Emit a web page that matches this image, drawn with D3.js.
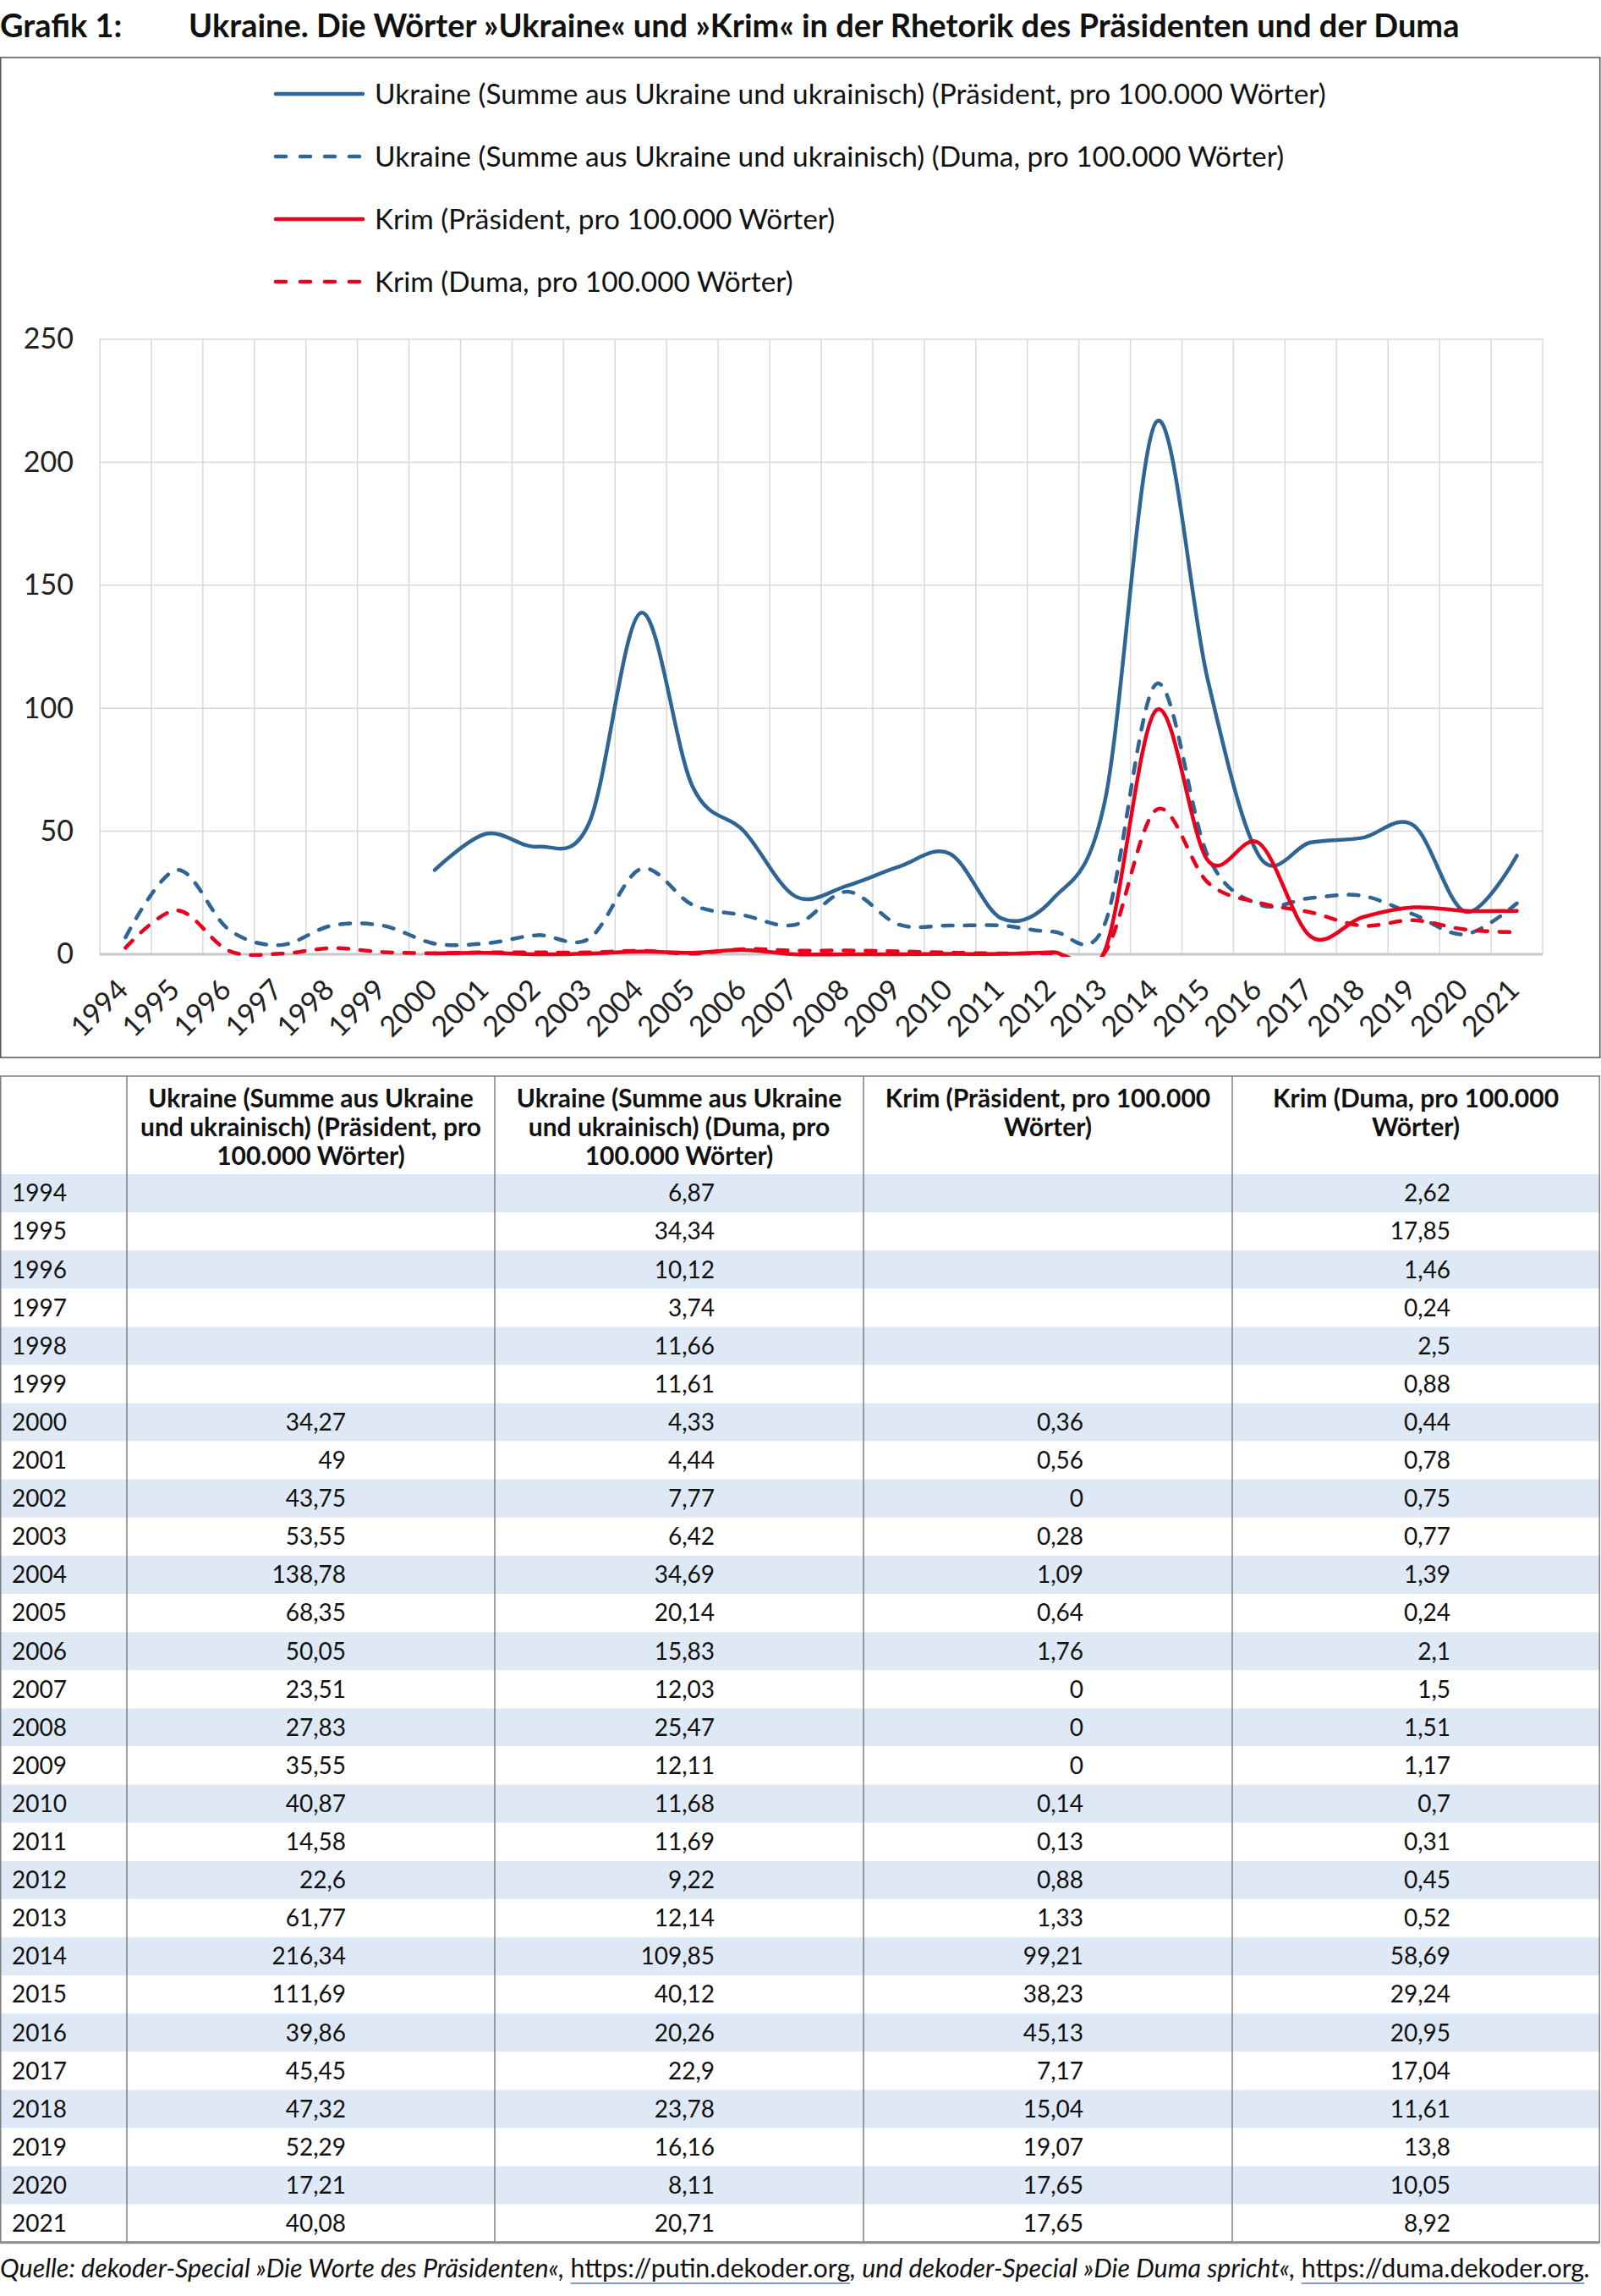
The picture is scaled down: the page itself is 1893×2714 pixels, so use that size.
<!DOCTYPE html>
<html>
<head>
<meta charset="utf-8">
<script src="https://cdn.jsdelivr.net/npm/d3@7"></script>
<style>
  body { margin: 0; background: #fff; }
  svg { display: block; font-family: Lato, "Open Sans", sans-serif; }
  text { white-space: pre; }
</style>
</head>
<body>
<div id="chart"></div>
<script>
const BLUE = "#2e6594";
const RED = "#e8001c";
const GRID = "#d9d9d9";
const STRIPE = "#dfe9f5";

const years = [1994, 1995, 1996, 1997, 1998, 1999, 2000, 2001, 2002, 2003, 2004, 2005, 2006, 2007,
  2008, 2009, 2010, 2011, 2012, 2013, 2014, 2015, 2016, 2017, 2018, 2019, 2020, 2021];

const ukrPraes = [null, null, null, null, null, null, 34.27, 49, 43.75, 53.55, 138.78, 68.35, 50.05, 23.51,
  27.83, 35.55, 40.87, 14.58, 22.6, 61.77, 216.34, 111.69, 39.86, 45.45, 47.32, 52.29, 17.21, 40.08];
const ukrDuma = [6.87, 34.34, 10.12, 3.74, 11.66, 11.61, 4.33, 4.44, 7.77, 6.42, 34.69, 20.14, 15.83, 12.03,
  25.47, 12.11, 11.68, 11.69, 9.22, 12.14, 109.85, 40.12, 20.26, 22.9, 23.78, 16.16, 8.11, 20.71];
const krimPraes = [null, null, null, null, null, null, 0.36, 0.56, 0, 0.28, 1.09, 0.64, 1.76, 0,
  0, 0, 0.14, 0.13, 0.88, 1.33, 99.21, 38.23, 45.13, 7.17, 15.04, 19.07, 17.65, 17.65];
const krimDuma = [2.62, 17.85, 1.46, 0.24, 2.5, 0.88, 0.44, 0.78, 0.75, 0.77, 1.39, 0.24, 2.1, 1.5,
  1.51, 1.17, 0.7, 0.31, 0.45, 0.52, 58.69, 29.24, 20.95, 17.04, 11.61, 13.8, 10.05, 8.92];

const seriesNames = [
  "Ukraine (Summe aus Ukraine und ukrainisch) (Präsident, pro 100.000 Wörter)",
  "Ukraine (Summe aus Ukraine und ukrainisch) (Duma, pro 100.000 Wörter)",
  "Krim (Präsident, pro 100.000 Wörter)",
  "Krim (Duma, pro 100.000 Wörter)"
];
const headerLines = [
  ["Ukraine (Summe aus Ukraine", "und ukrainisch) (Präsident, pro", "100.000 Wörter)"],
  ["Ukraine (Summe aus Ukraine", "und ukrainisch) (Duma, pro", "100.000 Wörter)"],
  ["Krim (Präsident, pro 100.000", "Wörter)"],
  ["Krim (Duma, pro 100.000", "Wörter)"]
];
const yTicks = [0, 50, 100, 150, 200, 250];

const titleLabel = "Grafik 1:";
const titleText = "Ukraine. Die Wörter »Ukraine« und »Krim« in der Rhetorik des Präsidenten und der Duma";
const footerParts = [
  { t: "Quelle: dekoder-Special »Die Worte des Präsidenten«, ", link: false },
  { t: "https://putin.dekoder.org", link: true },
  { t: ", und dekoder-Special »Die Duma spricht«, ", link: false },
  { t: "https://duma.dekoder.org", link: true },
  { t: ".", link: false }
];

const series = [
  { name: seriesNames[0], values: ukrPraes, color: BLUE, dash: false },
  { name: seriesNames[1], values: ukrDuma, color: BLUE, dash: true },
  { name: seriesNames[2], values: krimPraes, color: RED, dash: false },
  { name: seriesNames[3], values: krimDuma, color: RED, dash: true }
];

const W = 1893, H = 2714;
const svg = d3.select("#chart").append("svg").attr("width", W).attr("height", H);

// title
svg.append("text").attr("x", 0).attr("y", 44)
  .attr("font-size", 38).attr("font-weight", 700).attr("fill", "#111").text(titleLabel);
svg.append("text").attr("x", 223).attr("y", 44)
  .attr("font-size", 38).attr("font-weight", 700).attr("fill", "#111").text(titleText);

// chart frame
svg.append("rect").attr("x", 0.75).attr("y", 68).attr("width", W - 2).attr("height", 1182)
  .attr("fill", "none").attr("stroke", "#555").attr("stroke-width", 1.5);

// legend
const legend = svg.append("g");
series.forEach(function (s, i) {
  const ly = 111 + i * 74;
  legend.append("line").attr("x1", 326).attr("x2", 429).attr("y1", ly).attr("y2", ly)
    .attr("stroke", s.color).attr("stroke-width", 4.5).attr("stroke-linecap", "round")
    .attr("stroke-dasharray", s.dash ? "12 17" : null);
  legend.append("text").attr("x", 443).attr("y", ly).attr("dy", "0.35em")
    .attr("font-size", 33.4).attr("fill", "#111").text(s.name);
});

// scales
const plotLeft = 118, plotRight = 1824, plotTop = 401, plotBottom = 1128;
const x = d3.scaleBand().domain(years).range([plotLeft, plotRight]);
const cx = d => x(d) + x.bandwidth() / 2;
const y = d3.scaleLinear().domain([0, 250]).range([plotBottom, plotTop]);

// grid
const grid = svg.append("g");
grid.selectAll("line.v").data(years.concat(["end"])).join("line")
  .attr("x1", (d, i) => plotLeft + i * x.bandwidth())
  .attr("x2", (d, i) => plotLeft + i * x.bandwidth())
  .attr("y1", plotTop).attr("y2", plotBottom)
  .attr("stroke", GRID).attr("stroke-width", 1.5);
grid.selectAll("line.h").data(yTicks.filter(d => d > 0)).join("line")
  .attr("x1", plotLeft).attr("x2", plotRight)
  .attr("y1", d => y(d)).attr("y2", d => y(d))
  .attr("stroke", GRID).attr("stroke-width", 1.5);
svg.append("line").attr("x1", plotLeft).attr("x2", plotRight)
  .attr("y1", y(0)).attr("y2", y(0)).attr("stroke", "#c8c8c8").attr("stroke-width", 3);

// y axis labels
const yAxis = d3.axisLeft(y).tickValues(yTicks).tickSize(0).tickPadding(31);
svg.append("g").attr("transform", `translate(${plotLeft},0)`).call(yAxis)
  .call(g => g.select(".domain").remove())
  .selectAll("text").attr("font-size", 34).attr("fill", "#222").attr("font-family", "Lato");

// x axis labels
const xAxis = d3.axisBottom(x).tickSize(0).tickPadding(0);
svg.append("g").attr("transform", `translate(0,${plotBottom})`).call(xAxis)
  .call(g => g.select(".domain").remove())
  .selectAll("text")
  .attr("font-size", 34).attr("fill", "#222").attr("font-family", "Lato")
  .attr("text-anchor", "end")
  .attr("y", 0)
  .attr("dy", 0)
  .attr("transform", "translate(5,44) rotate(-45)");

// lines
svg.append("clipPath").attr("id", "plotclip").append("rect")
  .attr("x", plotLeft).attr("y", plotTop - 5).attr("width", plotRight - plotLeft).attr("height", plotBottom - plotTop + 8);

const line = d3.line()
  .defined(d => d.v !== null)
  .x(d => cx(d.year)).y(d => y(d.v))
  .curve(d3.curveCardinal.tension(0));

const linesG = svg.append("g").attr("clip-path", "url(#plotclip)");
series.forEach(function (s) {
  const pts = years.map((yr, i) => ({ year: yr, v: s.values[i] }));
  linesG.append("path").datum(pts)
    .attr("d", line)
    .attr("fill", "none").attr("stroke", s.color).attr("stroke-width", 4.5)
    .attr("stroke-linejoin", "round").attr("stroke-linecap", "round")
    .attr("stroke-dasharray", s.dash ? "12 14" : null);
});

// table
const tTop = 1272, headH = 116, rowH = 45.1;
const colX = [0, 150, 585, 1021, 1457, 1891];
const table = svg.append("g");
const rows = years.map((yr, i) => [yr, ukrPraes[i], ukrDuma[i], krimPraes[i], krimDuma[i]]);
const fmt = v => v === null ? "" : String(v).replace(".", ",");

table.selectAll("rect.stripe").data(rows).join("rect")
  .attr("x", 0).attr("width", colX[5])
  .attr("y", (d, i) => tTop + headH + i * rowH).attr("height", rowH)
  .attr("fill", (d, i) => i % 2 === 0 ? STRIPE : "#fff");

const tBottom = tTop + headH + rows.length * rowH;
table.append("rect").attr("x", 0.75).attr("y", tTop).attr("width", colX[5] - 0.5).attr("height", tBottom - tTop)
  .attr("fill", "none").attr("stroke", "#7f7f7f").attr("stroke-width", 1.5);
table.append("line").attr("x1", 0).attr("x2", colX[5]).attr("y1", tBottom).attr("y2", tBottom)
  .attr("stroke", "#8c8c8c").attr("stroke-width", 3);
table.selectAll("line.col").data(colX.slice(1, 5)).join("line")
  .attr("x1", d => d).attr("x2", d => d).attr("y1", tTop).attr("y2", tBottom)
  .attr("stroke", "#7f7f7f").attr("stroke-width", 1.5);

headerLines.forEach(function (lines, c) {
  const mid = (colX[c + 1] + colX[c + 2]) / 2;
  lines.forEach(function (ln, k) {
    table.append("text").attr("x", mid).attr("y", tTop + 37 + k * 34)
      .attr("text-anchor", "middle").attr("font-size", 30).attr("font-weight", 700)
      .attr("fill", "#111").text(ln);
  });
});

rows.forEach(function (r, i) {
  const ty = tTop + headH + i * rowH + rowH / 2;
  table.append("text").attr("x", 14).attr("y", ty).attr("dy", "0.35em")
    .attr("font-size", 28).attr("fill", "#111").text(r[0]);
  for (let c = 1; c <= 4; c++) {
    table.append("text").attr("x", colX[c + 1] - 176).attr("y", ty).attr("dy", "0.35em")
      .attr("text-anchor", "end").attr("font-size", 28).attr("fill", "#111").text(fmt(r[c]));
  }
});

// footer
let fx = 0;
footerParts.forEach(function (p) {
  const t = svg.append("text").attr("x", fx).attr("y", 2692)
    .attr("font-size", 30.4).attr("fill", "#111")
    .attr("font-style", p.link ? "normal" : "italic")
    .text(p.t);
  const w = t.node().getComputedTextLength();
  if (p.link) {
    svg.append("line").attr("x1", fx).attr("x2", fx + w).attr("y1", 2699).attr("y2", 2699)
      .attr("stroke", "#5b7bb0").attr("stroke-width", 1.5);
  }
  fx += w;
});
</script>
</body>
</html>
